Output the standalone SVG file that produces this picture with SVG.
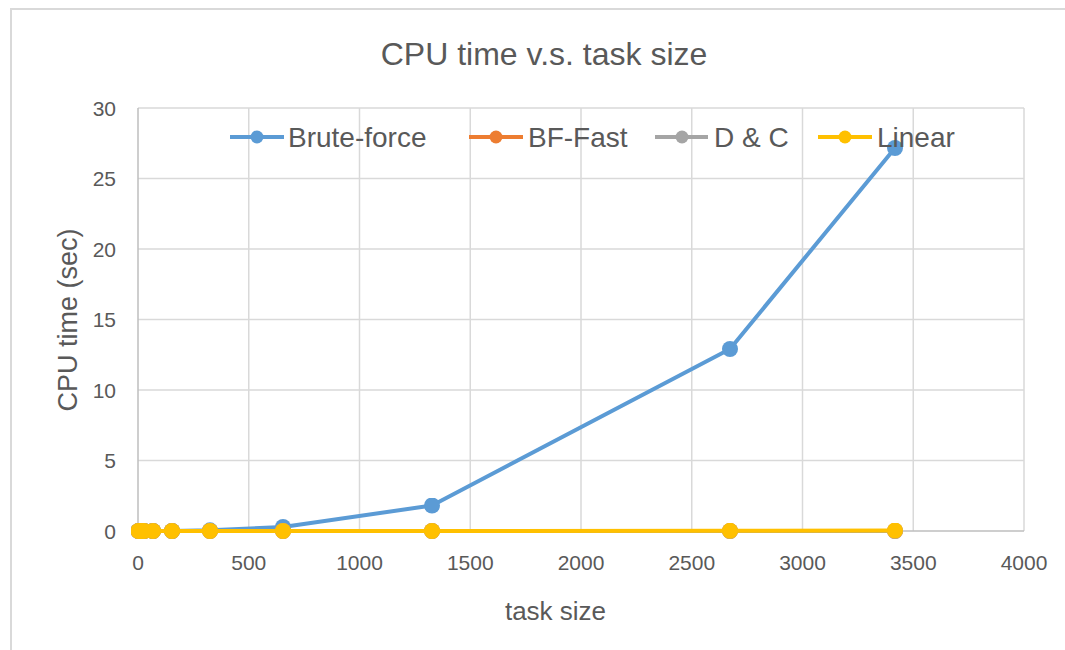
<svg xmlns="http://www.w3.org/2000/svg" width="1065" height="650" viewBox="0 0 1065 650">
<style>
text{font-family:"Liberation Sans",Arial,sans-serif;fill:#595959}
.grid{stroke:#d9d9d9;stroke-width:1.5;fill:none}
.axis{stroke:#bfbfbf;stroke-width:1.5;fill:none}
.tick{font-size:21px}
.ytick{text-anchor:end}
.xtick{text-anchor:middle}
.leg{font-size:28px}
.s{fill:none;stroke-width:4;stroke-linejoin:round;stroke-linecap:round}
.legline{stroke-width:4}
</style>
<defs>
<marker id="mb" viewBox="0 0 16 16" refX="8" refY="8" markerWidth="16" markerHeight="16" markerUnits="userSpaceOnUse"><circle cx="8" cy="8" r="8" fill="#5b9bd5"/></marker>
<marker id="mo" viewBox="0 0 16 16" refX="8" refY="8" markerWidth="16" markerHeight="16" markerUnits="userSpaceOnUse"><circle cx="8" cy="8" r="8" fill="#ed7d31"/></marker>
<marker id="mg" viewBox="0 0 16 16" refX="8" refY="8" markerWidth="16" markerHeight="16" markerUnits="userSpaceOnUse"><circle cx="8" cy="8" r="8" fill="#a5a5a5"/></marker>
<marker id="my" viewBox="0 0 16 16" refX="8" refY="8" markerWidth="16" markerHeight="16" markerUnits="userSpaceOnUse"><circle cx="8" cy="8" r="8" fill="#ffc000"/></marker>
</defs>
<rect x="0" y="0" width="1065" height="650" fill="#ffffff"/>
<rect x="11" y="9" width="1070" height="660" fill="none" stroke="#d9d9d9" stroke-width="2"/>
<text x="544" y="65" font-size="32" text-anchor="middle">CPU time v.s. task size</text>
<g id="gridlines">
<path class="grid" d="M138 108H1024M138 178.5H1024M138 249H1024M138 319.5H1024M138 390H1024M138 460.5H1024"/>
<path class="grid" d="M248.75 108V531M359.5 108V531M470.25 108V531M581 108V531M691.75 108V531M802.5 108V531M913.25 108V531M1024 108V531"/>
<path class="axis" d="M138 108V531H1024"/>
</g>
<g id="y-ticks" class="tick ytick">
<text x="116" y="538.5">0</text>
<text x="116" y="468">5</text>
<text x="116" y="397.5">10</text>
<text x="116" y="327">15</text>
<text x="116" y="256.5">20</text>
<text x="116" y="186">25</text>
<text x="116" y="115.5">30</text>
</g>
<g id="x-ticks" class="tick xtick">
<text x="138" y="570">0</text>
<text x="248.75" y="570">500</text>
<text x="359.5" y="570">1000</text>
<text x="470.25" y="570">1500</text>
<text x="581" y="570">2000</text>
<text x="691.75" y="570">2500</text>
<text x="802.5" y="570">3000</text>
<text x="913.25" y="570">3500</text>
<text x="1024" y="570">4000</text>
</g>
<text x="555.5" y="620" font-size="26" text-anchor="middle">task size</text>
<text transform="translate(77 320) rotate(-90)" font-size="27" text-anchor="middle">CPU time (sec)</text>
<g id="connectors">
<polyline id="brute-force" class="s" stroke="#5b9bd5" marker-start="url(#mb)" marker-mid="url(#mb)" marker-end="url(#mb)" points="138.5,531 141,531 144,531 153,531 172,531 210,530.3 283,527 432,505.5 730,349 895,148"/>
<polyline id="bf-fast" class="s" stroke="#ed7d31" marker-start="url(#mo)" marker-mid="url(#mo)" marker-end="url(#mo)" points="138.5,531 141,531 144,531 153,531 172,531 210,531 283,531 432,531 730,531 895,531"/>
<polyline id="d-and-c" class="s" stroke="#a5a5a5" marker-start="url(#mg)" marker-mid="url(#mg)" marker-end="url(#mg)" points="138.5,531 141,531 144,531 153,531 172,531 210,531 283,531 432,531 730,531 895,531"/>
<polyline id="linear" class="s" stroke="#ffc000" marker-start="url(#my)" marker-mid="url(#my)" marker-end="url(#my)" points="138.5,531 141,531 144,531 153,531 172,531 210,531 283,531 432,531 730,530.8 895,530.5"/>
</g>
<g id="legend">
<g id="legend-brute-force">
<line class="legline" x1="230" y1="137" x2="284" y2="137" stroke="#5b9bd5"/>
<circle cx="257" cy="137" r="6.5" fill="#5b9bd5"/>
<text class="leg" x="288" y="147">Brute-force</text>
</g>
<g id="legend-bf-fast">
<line class="legline" x1="469" y1="137" x2="523" y2="137" stroke="#ed7d31"/>
<circle cx="496" cy="137" r="6.5" fill="#ed7d31"/>
<text class="leg" x="528" y="147">BF-Fast</text>
</g>
<g id="legend-d-and-c">
<line class="legline" x1="655" y1="137" x2="708" y2="137" stroke="#a5a5a5"/>
<circle cx="682" cy="137" r="6.5" fill="#a5a5a5"/>
<text class="leg" x="714" y="147">D &amp; C</text>
</g>
<g id="legend-linear">
<line class="legline" x1="818" y1="137" x2="872" y2="137" stroke="#ffc000"/>
<circle cx="845" cy="137" r="6.5" fill="#ffc000"/>
<text class="leg" x="877" y="147">Linear</text>
</g>
</g>
</svg>
